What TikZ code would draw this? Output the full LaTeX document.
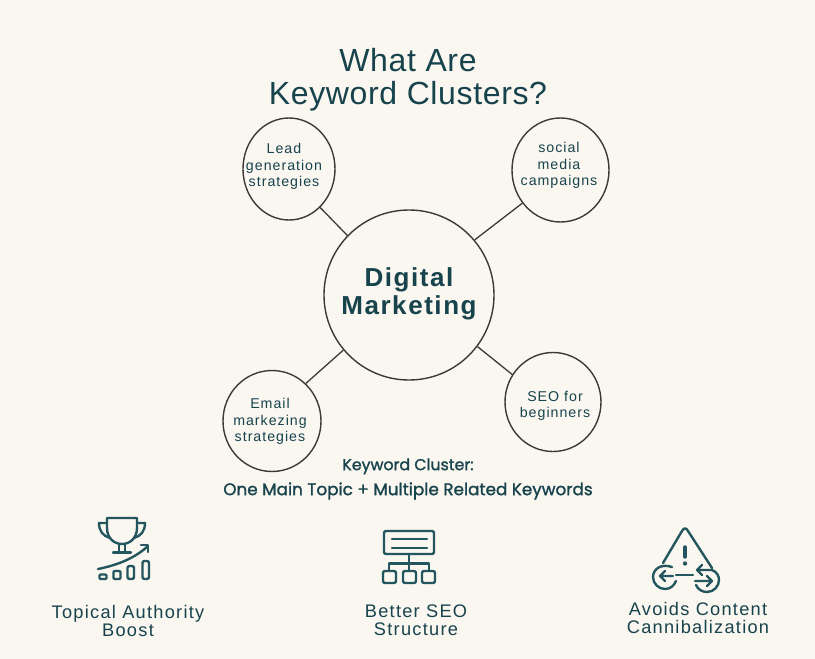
\documentclass[tikz,border=0pt]{standalone}
\usepackage{fontspec}
\setmainfont{Liberation Sans}
\newfontfamily\spaced[LetterSpace=7]{Liberation Sans}
\newfontfamily\titlef[LetterSpace=2]{Liberation Sans}
\newfontfamily\boldspaced[LetterSpace=6]{Liberation Sans}
\newfontfamily\kcf[FakeBold=1.4]{Poppins}
\usetikzlibrary{shapes.geometric,arrows.meta}
\definecolor{bgc}{HTML}{FAF6F0}
\definecolor{ink}{HTML}{17434D}
\definecolor{icon}{HTML}{23565F}
\definecolor{rim}{HTML}{3B3A38}
\tikzset{
  x=1pt,y=-1pt,
  ring/.style={draw=rim,line width=1.4pt,ellipse,inner sep=0pt},
  link/.style={draw=rim,line width=1.3pt},
  label/.style={align=center,text=ink,inner sep=0pt},
  small/.style={label,font=\spaced\fontsize{14.2}{16.4}\selectfont},
  bottom/.style={label,font=\spaced\fontsize{18.2}{18}\selectfont},
  ic/.style={draw=icon,line width=2.4pt,line cap=round,line join=round}
}
\begin{document}
\begin{tikzpicture}
\path[fill=bgc] (0,0) rectangle (815,659);
\useasboundingbox (0,0) rectangle (815,659);
\node[label,font=\titlef\fontsize{32}{33}\selectfont] (title) at (408,80) {What Are\\Keyword Clusters?};
\node[ring,minimum width=170pt,minimum height=170pt] (hub) at (409,295) {};
\node[label,font=\boldspaced\bfseries\fontsize{26}{28}\selectfont] (hubt) at (409,294) {Digital\\Marketing};
\node[ring,minimum width=92pt,minimum height=102pt] (tl) at (289,169) {};
\node[small] (tlt) at (284,166.5) {Lead\\generation\\strategies};
\node[ring,minimum width=97pt,minimum height=104pt] (tr) at (560.5,170) {};
\node[small] (trt) at (559,165.5) {social\\media\\campaigns};
\node[ring,minimum width=98pt,minimum height=101pt] (bl) at (272,421) {};
\node[small] (blt) at (270,421.5) {Email\\markezing\\strategies};
\node[ring,minimum width=96pt,minimum height=99pt] (br) at (553,402) {};
\node[small] (brt) at (555,406) {SEO for\\beginners};
\draw[link] (tl.-51) -- (hub.136);
\draw[link] (tr.221) -- (hub.40);
\draw[link] (bl.48) -- (hub.220);
\draw[link] (br.146) -- (hub.-37);
\node[label,font=\kcf\fontsize{16.8}{25}\selectfont] (kc) at (408,479) {\fontsize{15.8}{25}\selectfont Keyword Cluster:\\\fontsize{16.8}{25}\selectfont One Main Topic + Multiple Related Keywords};
% trophy
\draw[ic] (107,518) -- (137,518) -- (137,528) .. controls (137,538) and (130,544) .. (122,544) .. controls (114,544) and (107,538) .. (107,528) -- cycle;
\draw[ic] (107,523) -- (99,523) .. controls (99,531) and (103,536) .. (110,538);
\draw[ic] (137,523) -- (145,523) .. controls (145,531) and (141,536) .. (134,538);
\draw[ic] (119,544) -- (119,552) (125,544) -- (125,552) (113,552.5) -- (131,552.5);
\draw[ic] (98,569) .. controls (118,565) and (135,558) .. (148,546);
\draw[ic] (141,545) -- (148,545) -- (148,552);
\draw[ic,rounded corners=1pt] (99.5,574.5) rectangle (106.5,579);
\draw[ic,rounded corners=1pt] (113.5,571) rectangle (120.5,579);
\draw[ic,rounded corners=2pt] (127.5,566) rectangle (134,579);
\draw[ic,rounded corners=2pt] (142.5,561) rectangle (149,579);
\node[bottom] (t1) at (128,621) {Topical Authority\\Boost};
% network
\draw[ic,rounded corners=2pt] (384,531) rectangle (434,554);
\draw[ic] (392,539) -- (427,539) (392,548) -- (427,548);
\draw[ic] (409,554) -- (409,571) (389,571) -- (389,563.5) -- (429,563.5) -- (429,571);
\draw[ic,rounded corners=2pt] (383,571) rectangle (396,583);
\draw[ic,rounded corners=2pt] (403,571) rectangle (416,583);
\draw[ic,rounded corners=2pt] (422,571) rectangle (435,583);
\node[bottom] (t2) at (416,620) {Better SEO\\Structure};
% warning
\draw[ic] (663,563) -- (682,531) .. controls (684,527.5) and (686,527.5) .. (688,531) -- (712,568);
\draw[ic,line width=3.4pt] (685,547) -- (685,557);
\fill[icon] (685,563.5) circle (2.2pt);
\draw[ic] (672,567) .. controls (660,563) and (653,570) .. (653,577) .. controls (653,584) and (659,589) .. (665,589) .. controls (670,589) and (674,586) .. (676,581);
\draw[ic] (673,576) -- (660,576) (665,571) -- (660,576) -- (665,581);
\draw[ic] (676,575) -- (693,575);
\draw[ic] (712,570) -- (697,570) (702,565) -- (697,570) -- (702,575);
\draw[ic] (695,581) -- (712,581) (707,576) -- (712,581) -- (707,586);
\draw[ic] (696,585) .. controls (698,590) and (703,592) .. (707,592) .. controls (714,592) and (719,586) .. (719,580) .. controls (719,576) and (717,572) .. (712,570);
\node[bottom] (t3) at (698,618) {Avoids Content\\Cannibalization};
\end{tikzpicture}
\end{document}
